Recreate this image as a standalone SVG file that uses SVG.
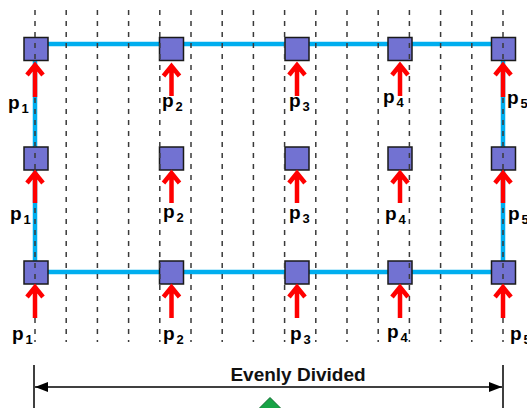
<svg xmlns="http://www.w3.org/2000/svg" width="527" height="408" viewBox="0 0 527 408">
<style>
.dash{stroke:#3a3a3a;stroke-width:1.5;stroke-dasharray:5 6;fill:none}
.beam{stroke:#00AEEF;stroke-width:4.5;fill:none}
.sq{fill:#7272D2;stroke:#1a1a1a;stroke-width:1.5}
.arr{stroke:#FF0000;stroke-width:4.5;fill:none;stroke-linejoin:miter;stroke-linecap:butt}
.lbl{font-family:"Liberation Sans",Arial,sans-serif;font-weight:bold;font-size:19px;fill:#000}
.sub{font-size:13px}
.dim{stroke:#000;stroke-width:1.5;fill:none}
.title{font-family:"Liberation Sans",Arial,sans-serif;font-weight:bold;font-size:19px;fill:#111}
</style>
<defs>
<marker id="ah" viewBox="0 0 13 10" refX="13" refY="5" markerWidth="13" markerHeight="10" markerUnits="userSpaceOnUse" orient="auto-start-reverse">
<path d="M0,0 L13,5 L0,10 z" fill="#000"/>
</marker>
</defs>
<g id="connectors">
<path class="beam" d="M35,44 H503 M35,272 H503 M35,44 V272 M503,44 V272"/>
</g>
<g id="nodes">
<g id="n11"><rect class="sq" x="24" y="37.5" width="24" height="23"/></g>
<g id="n12"><rect class="sq" x="159.5" y="37.5" width="24" height="23"/></g>
<g id="n13"><rect class="sq" x="285" y="37.5" width="24" height="23"/></g>
<g id="n14"><rect class="sq" x="388" y="37.5" width="24" height="23"/></g>
<g id="n15"><rect class="sq" x="491.5" y="37.5" width="24" height="23"/></g>
<g id="n21"><rect class="sq" x="24" y="147" width="24" height="23"/></g>
<g id="n22"><rect class="sq" x="159.5" y="147" width="24" height="23"/></g>
<g id="n23"><rect class="sq" x="285" y="147" width="24" height="23"/></g>
<g id="n24"><rect class="sq" x="388" y="147" width="24" height="23"/></g>
<g id="n25"><rect class="sq" x="491.5" y="147" width="24" height="23"/></g>
<g id="n31"><rect class="sq" x="24" y="261" width="24" height="23"/></g>
<g id="n32"><rect class="sq" x="159.5" y="261" width="24" height="23"/></g>
<g id="n33"><rect class="sq" x="285" y="261" width="24" height="23"/></g>
<g id="n34"><rect class="sq" x="388" y="261" width="24" height="23"/></g>
<g id="n35"><rect class="sq" x="491.5" y="261" width="24" height="23"/></g>
</g>
<g id="grid">
<path class="dash" d="M35,10 V342 M66.2,10 V342 M97.4,10 V342 M128.6,10 V342 M159.8,10 V342 M191,10 V342 M222.2,10 V342 M253.4,10 V342 M284.6,10 V342 M315.8,10 V342 M347,10 V342 M378.2,10 V342 M409.4,10 V342 M440.6,10 V342 M471.8,10 V342 M503,10 V342"/>
</g>
<g id="loads">
<path class="arr" d="M35,97 V66 M27,75 L35,65 L43,75"/>
<path class="arr" d="M171.5,96 V67 M163.5,76 L171.5,66 L179.5,76"/>
<path class="arr" d="M297,96 V66 M289,75 L297,65 L305,75"/>
<path class="arr" d="M400,96 V66 M392,75 L400,65 L408,75"/>
<path class="arr" d="M503,97 V66 M495,75 L503,65 L511,75"/>
<path class="arr" d="M35,203 V174 M27,183 L35,173 L43,183"/>
<path class="arr" d="M171.5,203 V174 M163.5,183 L171.5,173 L179.5,183"/>
<path class="arr" d="M297,203 V174 M289,183 L297,173 L305,183"/>
<path class="arr" d="M400,203 V174 M392,183 L400,173 L408,183"/>
<path class="arr" d="M503,203 V174 M495,183 L503,173 L511,183"/>
<path class="arr" d="M35,318 V288 M27,297 L35,287 L43,297"/>
<path class="arr" d="M171.5,318 V288 M163.5,297 L171.5,287 L179.5,297"/>
<path class="arr" d="M297,318 V288 M289,297 L297,287 L305,297"/>
<path class="arr" d="M400,318 V288 M392,297 L400,287 L408,297"/>
<path class="arr" d="M503,318 V288 M495,297 L503,287 L511,297"/>
</g>
<g id="labels">
<text class="lbl" x="8" y="109">p<tspan class="sub" dx="2" dy="4">1</tspan></text>
<text class="lbl" x="162" y="107">p<tspan class="sub" dx="2" dy="4">2</tspan></text>
<text class="lbl" x="289" y="107">p<tspan class="sub" dx="2" dy="4">3</tspan></text>
<text class="lbl" x="383" y="103">p<tspan class="sub" dx="2" dy="4">4</tspan></text>
<text class="lbl" x="507" y="104">p<tspan class="sub" dx="2" dy="4">5</tspan></text>
<text class="lbl" x="10" y="220">p<tspan class="sub" dx="2" dy="4">1</tspan></text>
<text class="lbl" x="163" y="218">p<tspan class="sub" dx="2" dy="4">2</tspan></text>
<text class="lbl" x="289" y="219">p<tspan class="sub" dx="2" dy="4">3</tspan></text>
<text class="lbl" x="385" y="220">p<tspan class="sub" dx="2" dy="4">4</tspan></text>
<text class="lbl" x="508" y="220">p<tspan class="sub" dx="2" dy="4">5</tspan></text>
<text class="lbl" x="12" y="340">p<tspan class="sub" dx="2" dy="4">1</tspan></text>
<text class="lbl" x="163" y="340">p<tspan class="sub" dx="2" dy="4">2</tspan></text>
<text class="lbl" x="290" y="340">p<tspan class="sub" dx="2" dy="4">3</tspan></text>
<text class="lbl" x="387" y="338">p<tspan class="sub" dx="2" dy="4">4</tspan></text>
<text class="lbl" x="510" y="340">p<tspan class="sub" dx="2" dy="4">5</tspan></text>
</g>
<g id="dimension">
<path class="dim" d="M34,365 V408 M503,365 V408"/>
<path class="dim" d="M35,387 H502" marker-start="url(#ah)" marker-end="url(#ah)"/>
<text class="title" x="298" y="381" text-anchor="middle">Evenly Divided</text>
</g>
<g id="marker-green">
<polygon points="270,397.5 283,410.5 270,423.5 257,410.5" fill="#17A346" stroke="#0E6B2E" stroke-width="1"/>
</g>
</svg>
